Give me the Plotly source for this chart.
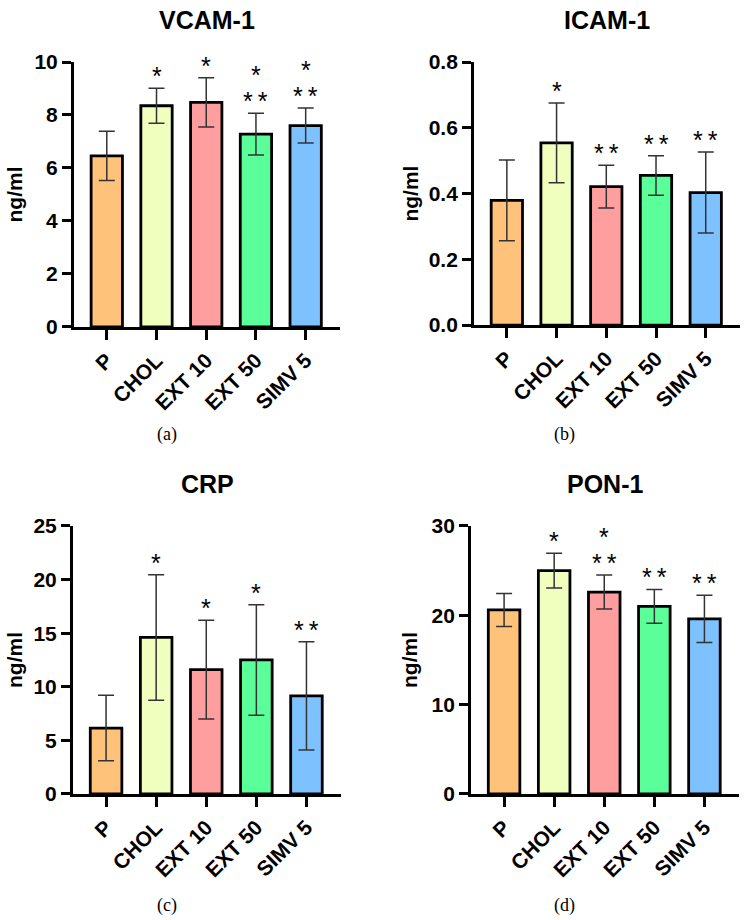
import plotly.graph_objects as go
from plotly.subplots import make_subplots

groups = ["P", "CHOL", "EXT 10", "EXT 50", "SIMV 5"]
bar_colors = ["#FFC27A", "#F0FEBE", "#FF9E9E", "#5BFF9A", "#7DC1FF"]

TS = "\u2009"  # thin space between paired asterisks

# mean and SD
vcam_mean = [6.46, 8.35, 8.48, 7.28, 7.60]
vcam_sd = [0.93, 0.66, 0.93, 0.79, 0.66]
vcam_stars_low = ["", "*", "*", "*" + TS + "*", "*" + TS + "*"]
vcam_stars_high = ["", "", "", "*", "*"]

icam_mean = [0.379, 0.554, 0.421, 0.455, 0.403]
icam_sd = [0.123, 0.121, 0.065, 0.060, 0.123]
icam_stars_low = ["", "*", "*" + TS + "*", "*" + TS + "*", "*" + TS + "*"]
icam_stars_high = ["", "", "", "", ""]

crp_mean = [6.15, 14.6, 11.6, 12.5, 9.15]
crp_sd = [3.05, 5.85, 4.6, 5.15, 5.05]
crp_stars_low = ["", "*", "*", "*", "*" + TS + "*"]
crp_stars_high = ["", "", "", "", ""]

pon_mean = [20.6, 25.0, 22.6, 21.0, 19.6]
pon_sd = [1.85, 1.95, 1.9, 1.9, 2.65]
pon_stars_low = ["", "*", "*" + TS + "*", "*" + TS + "*", "*" + TS + "*"]
pon_stars_high = ["", "", "*", "", ""]

panels = [
    ("VCAM-1", vcam_mean, vcam_sd, vcam_stars_low, vcam_stars_high, 10, 2, ".0f", "(a)"),
    ("ICAM-1", icam_mean, icam_sd, icam_stars_low, icam_stars_high, 0.8, 0.2, ".1f", "(b)"),
    ("CRP", crp_mean, crp_sd, crp_stars_low, crp_stars_high, 25, 5, ".0f", "(c)"),
    ("PON-1", pon_mean, pon_sd, pon_stars_low, pon_stars_high, 30, 10, ".0f", "(d)"),
]

# axis domains in paper units (from pixel positions of the reference)
xdoms = [[0.0985, 0.4527], [0.6312, 0.9854], [0.0972, 0.4541], [0.6272, 0.9840]]
ydoms = [[0.6446, 0.9326], [0.6467, 0.9326], [0.1370, 0.4283], [0.1370, 0.4283]]
ytitle_shift = [-59, -64, -58, -61]
caption_pos = [(0.2224, 0.5272), (0.7523, 0.5272), (0.2224, 0.0163), (0.7523, 0.0163)]

SANS = "Liberation Sans, Arial, sans-serif"
SERIF = "Liberation Serif, Times New Roman, serif"

fig = make_subplots(rows=2, cols=2)

for i, (title, mean, sd, low, high, ymax, dtick, fmt, cap) in enumerate(panels):
    r, c = i // 2 + 1, i % 2 + 1
    fig.add_trace(go.Bar(
        x=groups, y=mean, width=0.63,
        marker=dict(color=bar_colors, line=dict(color="black", width=2.8)),
        error_y=dict(type="data", array=sd, visible=True,
                     color="#333333", thickness=1.5, width=8),
        showlegend=False, hoverinfo="skip",
    ), row=r, col=c)

    xa = "xaxis" if i == 0 else f"xaxis{i + 1}"
    ya = "yaxis" if i == 0 else f"yaxis{i + 1}"
    xr = "x" if i == 0 else f"x{i + 1}"
    yr = "y" if i == 0 else f"y{i + 1}"

    fig.layout[xa].update(
        domain=xdoms[i], range=[-0.66, 4.69], showline=True, linecolor="black",
        linewidth=3, ticks="outside", ticklen=10, tickwidth=3, tickcolor="black",
        tickangle=-45, tickfont=dict(family=SANS, size=21, color="black", weight="bold"),
        showgrid=False, zeroline=False, anchor=yr, automargin=False,
    )
    fig.layout[ya].update(
        domain=ydoms[i], range=[0, ymax], dtick=dtick, tickformat=fmt,
        showline=True, linecolor="black", linewidth=3, ticks="outside",
        ticklen=9, tickwidth=3, tickcolor="black",
        tickfont=dict(family=SANS, size=21, color="black", weight="bold"),
        showgrid=False, zeroline=False, anchor=xr, automargin=False,
    )

    # significance marks
    for g, m, s, lo, hi in zip(groups, mean, sd, low, high):
        if lo:
            fig.add_annotation(x=g, y=m + s, xref=xr, yref=yr, text=lo,
                               showarrow=False, yanchor="bottom", yshift=-4,
                               font=dict(family=SANS, size=25, color="black"))
        if hi:
            fig.add_annotation(x=g, y=m + s, xref=xr, yref=yr, text=hi,
                               showarrow=False, yanchor="bottom", yshift=22,
                               font=dict(family=SANS, size=25, color="black"))

    # panel title
    fig.add_annotation(x=0.5, y=1, xref=f"{xr} domain", yref=f"{yr} domain",
                       text=title, showarrow=False, yanchor="middle", yshift=42,
                       font=dict(family=SANS, size=25, color="black", weight="bold"))
    # y axis title
    fig.add_annotation(x=0, y=0.5, xref=f"{xr} domain", yref=f"{yr} domain",
                       text="ng/ml", showarrow=False, textangle=-90,
                       xshift=ytitle_shift[i], xanchor="center", yanchor="middle",
                       font=dict(family=SANS, size=21, color="black", weight="bold"))
    # caption
    fig.add_annotation(x=caption_pos[i][0], y=caption_pos[i][1], xref="paper", yref="paper",
                       text=cap, showarrow=False, xanchor="center", yanchor="middle",
                       font=dict(family=SERIF, size=18, color="black"))

fig.update_layout(
    width=751, height=920,
    margin=dict(l=0, r=0, t=0, b=0, pad=0, autoexpand=False),
    plot_bgcolor="white", paper_bgcolor="white",
)

fig.write_html("out.html", config={"displayModeBar": False},
               post_script="document.body.style.margin='0';")
